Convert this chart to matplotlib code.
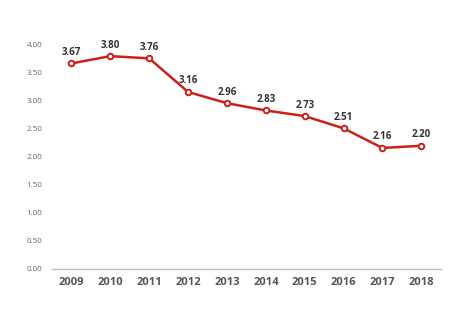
import matplotlib.pyplot as plt
import numpy as np

plt.rcParams['font.family'] = ['Open Sans', 'DejaVu Sans']

# Data
years = ['2009', '2010', '2011', '2012', '2013', '2014', '2015', '2016', '2017', '2018']
values = [3.67, 3.80, 3.76, 3.16, 2.96, 2.83, 2.73, 2.51, 2.16, 2.20]
yticks = [0.0, 0.5, 1.0, 1.5, 2.0, 2.5, 3.0, 3.5, 4.0]

fig = plt.figure(figsize=(4.74, 3.28), dpi=100)
ax = fig.add_axes([0.1097, 0.180, 0.8203, 0.683])

x = np.arange(len(years))
ax.plot(x, values, color='#cc1f1a', linewidth=1.8, marker='o', markersize=4,
        markerfacecolor='white', markeredgecolor='#cc1f1a', markeredgewidth=1.4, zorder=3)

for xi, v in zip(x, values):
    ax.annotate(f'{v:.2f}', (xi, v), xytext=(0, 4), textcoords='offset points',
                ha='center', va='bottom', fontsize=7, fontweight='bold', color='#333333')

ax.set_xlim(-0.5, len(years) - 0.5)
ax.set_ylim(0, 4.0)
ax.set_xticks(x)
ax.set_xticklabels(years, fontsize=8, fontweight='bold', color='#555555')
ax.set_yticks(yticks)
ax.set_yticklabels([f'{t:.2f}' for t in yticks], fontsize=5.8, color='#666666')
ax.tick_params(axis='both', length=0)
ax.tick_params(axis='x', pad=6)
ax.tick_params(axis='y', pad=7)

for s in ['top', 'right', 'left']:
    ax.spines[s].set_visible(False)
ax.spines['bottom'].set_color('#bfbfbf')
ax.spines['bottom'].set_linewidth(1)

plt.savefig('out.png', dpi=100)
plt.close(fig)
